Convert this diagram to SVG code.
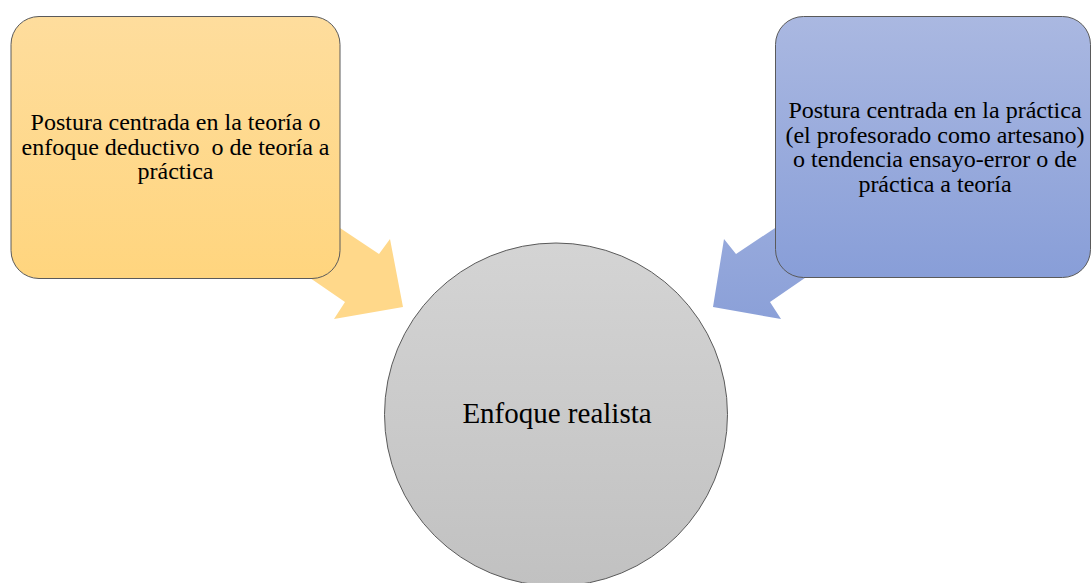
<svg xmlns="http://www.w3.org/2000/svg" width="1091" height="583" viewBox="0 0 1091 583">
<defs>
<linearGradient id="gOrange" x1="0" y1="0" x2="0" y2="1"><stop offset="0" stop-color="#FEDD9D"/><stop offset="1" stop-color="#FFD57E"/></linearGradient>
<linearGradient id="gBlue" x1="0" y1="0" x2="0" y2="1"><stop offset="0" stop-color="#AAB8E1"/><stop offset="1" stop-color="#889ED8"/></linearGradient>
<linearGradient id="gGray" x1="0" y1="0" x2="0" y2="1"><stop offset="0" stop-color="#D4D4D4"/><stop offset="1" stop-color="#C1C1C1"/></linearGradient>
<linearGradient id="gArrowB" x1="0" y1="200" x2="0" y2="320" gradientUnits="userSpaceOnUse"><stop offset="0" stop-color="#9AACDD"/><stop offset="1" stop-color="#8BA0D8"/></linearGradient>
</defs>
<style>
.box{stroke:#5a5a5a;stroke-width:1}
.lbl{font-family:"Liberation Serif","Times New Roman",serif;fill:#000;text-anchor:middle}
.small{font-size:24px}
.big{font-size:29px}
</style>
<g id="connectors">
<polygon points="301,202 379,254 390,239 403,307 334,319 345,302 249,236" fill="#FFD88A"/>
<polygon points="814,202 736,254 724,239 713,307 781,319 770,302 866,236" fill="url(#gArrowB)"/>
</g>
<g id="node-theory">
<rect class="box" x="11" y="16.5" width="329" height="262" rx="28" fill="url(#gOrange)"/>
<text class="lbl small" x="175.5" y="130">Postura centrada en la teoría o</text>
<text class="lbl small" x="175.5" y="154.5" xml:space="preserve">enfoque deductivo  o de teoría a</text>
<text class="lbl small" x="175.5" y="179">práctica</text>
</g>
<g id="node-practice">
<rect class="box" x="775.5" y="16.5" width="315" height="261" rx="28" fill="url(#gBlue)"/>
<text class="lbl small" x="935" y="118">Postura centrada en la práctica</text>
<text class="lbl small" x="935" y="142.5">(el profesorado como artesano)</text>
<text class="lbl small" x="935" y="167">o tendencia ensayo-error o de</text>
<text class="lbl small" x="935" y="191.5">práctica a teoría</text>
</g>
<g id="node-realista">
<circle class="box" cx="556" cy="414.5" r="171.5" fill="url(#gGray)"/>
<text class="lbl big" x="557" y="423">Enfoque realista</text>
</g>
</svg>
